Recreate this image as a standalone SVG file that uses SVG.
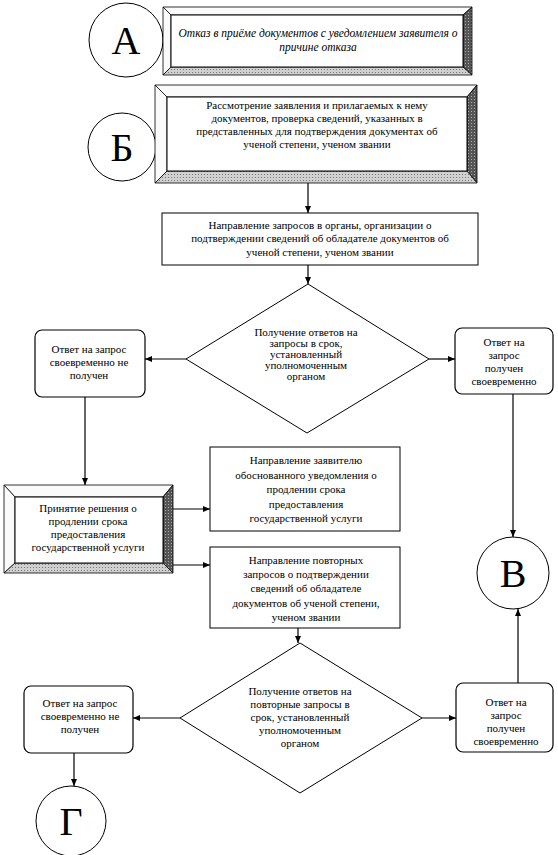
<svg xmlns="http://www.w3.org/2000/svg" width="558" height="855" viewBox="0 0 558 855">
<defs>
<marker id="arr" markerWidth="8" markerHeight="8" refX="7" refY="4" orient="auto" markerUnits="userSpaceOnUse">
<path d="M0,1 L7,4 L0,7 Z" fill="#000"/>
</marker>
<pattern id="dark" width="3" height="3" patternUnits="userSpaceOnUse">
<rect width="3" height="3" fill="#555"/>
<rect width="1" height="1" fill="#aaa"/>
</pattern>
<pattern id="light" width="3" height="3" patternUnits="userSpaceOnUse">
<rect width="3" height="3" fill="#d0d0d0"/>
<rect width="1" height="1" fill="#777"/>
</pattern>
</defs>
<style>
.box{fill:#fff;stroke:#000;stroke-width:1}
.rbox{fill:#fff;stroke:#000;stroke-width:1.2}
.circ{fill:#fff;stroke:#000;stroke-width:1}
.bl{fill:#fafafa;stroke:#000;stroke-width:0.8}
.bd{fill:url(#dark);stroke:#000;stroke-width:0.8}
.bg{fill:url(#light);stroke:#000;stroke-width:0.8}
.con{fill:none;stroke:#000;stroke-width:1.2;marker-end:url(#arr)}
</style>
<rect width="558" height="855" fill="#fff"/>

<g font-family="Liberation Serif" fill="#000" text-anchor="middle" font-size="11">

<g id="circleA">
<circle class="circ" cx="126" cy="40" r="37"/>
<text font-size="40" x="126" y="54">А</text>
</g>

<g id="boxA">
<polygon class="bl" points="163,7 472,7 463,15 171,15"/>
<polygon class="bl" points="163,7 171,15 171,67 163,75"/>
<polygon class="bd" points="472,7 472,75 463,67 463,15"/>
<polygon class="bg" points="163,75 171,67 463,67 472,75"/>
<rect class="box" x="171" y="15" width="292" height="52"/>
<text font-style="italic" font-size="11.5" x="318" y="37">Отказ в приёме документов с уведомлением заявителя о</text>
<text font-style="italic" font-size="11.5" x="318" y="51">причине отказа</text>
</g>

<g id="circleB">
<circle class="circ" cx="122" cy="147" r="34"/>
<text font-size="40" x="122" y="161">Б</text>
</g>

<g id="boxB">
<polygon class="bl" points="155,85 477,85 467,97 167,97"/>
<polygon class="bl" points="155,85 167,97 167,171 155,183"/>
<polygon class="bd" points="477,85 477,183 467,171 467,97"/>
<polygon class="bg" points="155,183 167,171 467,171 477,183"/>
<rect class="box" x="167" y="97" width="300" height="74"/>
<text x="317" y="109">Рассмотрение заявления и прилагаемых к нему</text>
<text x="317" y="122">документов, проверка сведений, указанных в</text>
<text x="317" y="135">представленных для подтверждения документах об</text>
<text x="317" y="148">ученой степени, ученом звании</text>
</g>

<g id="box3">
<rect class="box" x="162" y="213" width="316" height="52"/>
<text x="320" y="229">Направление запросов в органы, организации о</text>
<text x="320" y="242">подтверждении сведений об обладателе документов об</text>
<text x="320" y="256">ученой степени, ученом звании</text>
</g>

<g id="diamond1">
<polygon class="box" points="308,284 429,359 307,433 186,359"/>
<text x="306" y="336">Получение ответов на</text>
<text x="306" y="347">запросы в срок,</text>
<text x="306" y="358">установленный</text>
<text x="306" y="369">уполномоченным</text>
<text x="306" y="380">органом</text>
</g>

<g id="leftBox1">
<rect class="rbox" x="35" y="330" width="110" height="67" rx="7"/>
<text x="89" y="353">Ответ на запрос</text>
<text x="89" y="366">своевременно не</text>
<text x="89" y="379">получен</text>
</g>

<g id="rightBox1">
<rect class="rbox" x="455" y="328" width="98" height="66" rx="7"/>
<text x="504" y="346">Ответ на</text>
<text x="504" y="359">запрос</text>
<text x="504" y="372">получен</text>
<text x="504" y="385">своевременно</text>
</g>

<g id="box4">
<polygon class="bl" points="4,485 173,485 163,497 15,497"/>
<polygon class="bl" points="4,485 15,497 15,563 4,573"/>
<polygon class="bd" points="173,485 173,573 163,563 163,497"/>
<polygon class="bg" points="4,573 15,563 163,563 173,573"/>
<rect class="box" x="15" y="497" width="148" height="66"/>
<text x="88" y="512">Принятие решения о</text>
<text x="88" y="525">продлении срока</text>
<text x="88" y="538">предоставления</text>
<text x="88" y="551">государственной услуги</text>
</g>

<g id="box5">
<rect class="box" x="210" y="447" width="190" height="84"/>
<text x="306" y="464">Направление заявителю</text>
<text x="306" y="479">обоснованного уведомления о</text>
<text x="306" y="493">продлении срока</text>
<text x="306" y="508">предоставления</text>
<text x="306" y="522">государственной услуги</text>
</g>

<g id="box6">
<rect class="box" x="210" y="547" width="190" height="81"/>
<text x="306" y="564">Направление повторных</text>
<text x="306" y="578">запросов о подтверждении</text>
<text x="306" y="592">сведений об обладателе</text>
<text x="306" y="607">документов об ученой степени,</text>
<text x="306" y="621">ученом звании</text>
</g>

<g id="circleV">
<circle class="circ" cx="513" cy="573" r="36"/>
<text font-size="40" x="513" y="587">В</text>
</g>

<g id="diamond2">
<polygon class="box" points="300,643 422,718 300,793 180,718"/>
<text x="300" y="695">Получение ответов на</text>
<text x="300" y="708">повторные запросы в</text>
<text x="300" y="721">срок, установленный</text>
<text x="300" y="734">уполномоченным</text>
<text x="300" y="747">органом</text>
</g>

<g id="leftBox2">
<rect class="rbox" x="24" y="686" width="109" height="67" rx="7"/>
<text x="80" y="707">Ответ на запрос</text>
<text x="80" y="720">своевременно не</text>
<text x="80" y="733">получен</text>
</g>

<g id="rightBox2">
<rect class="rbox" x="456" y="683" width="97" height="69" rx="7"/>
<text x="506" y="706">Ответ на</text>
<text x="506" y="719">запрос</text>
<text x="506" y="732">получен</text>
<text x="506" y="745">своевременно</text>
</g>

<g id="circleG">
<circle class="circ" cx="71" cy="821" r="35"/>
<text font-size="40" x="71" y="835">Г</text>
</g>

</g>

<g id="connectors">
<path class="con" d="M308,183 V213"/>
<path class="con" d="M308,265 V284"/>
<path class="con" d="M186,359 H145"/>
<path class="con" d="M429,359 H455"/>
<path class="con" d="M85,397 V485"/>
<path class="con" d="M513,394 V537"/>
<path class="con" d="M173,509 H210"/>
<path class="con" d="M173,565 H210"/>
<path class="con" d="M298,628 V643"/>
<path class="con" d="M180,718 H133"/>
<path class="con" d="M422,718 H456"/>
<path class="con" d="M518,683 V609"/>
<path class="con" d="M74,753 V786"/>
</g>
</svg>
